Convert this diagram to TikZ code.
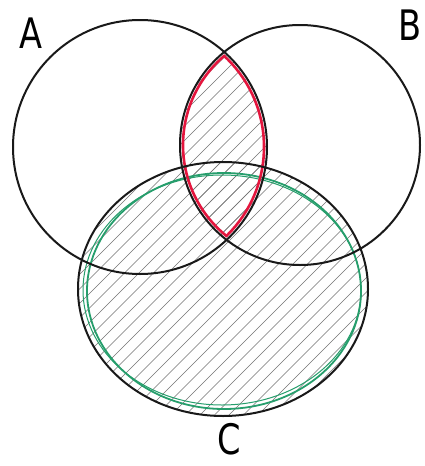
\documentclass[tikz,border=0pt]{standalone}
\usepackage{fontspec}
\setsansfont{DejaVu Sans}
\definecolor{penred}{RGB}{228,22,62}
\definecolor{pengreen}{RGB}{38,158,108}
\begin{document}
\begin{tikzpicture}[x=1pt,y=-1pt,
  outline/.style={draw=black!90,line width=2pt},
  redline/.style={draw=penred,line width=2.6pt},
  greenline/.style={draw=pengreen,line width=1.8pt},
  hatch/.style={draw=black!55,line width=0.6pt},
  setlabel/.style={font=\sffamily\fontsize{42}{42}\selectfont,inner sep=0pt,xscale=0.8}]
\useasboundingbox (0,0) rectangle (424,466);
\fill[white] (0,0) rectangle (424,466);
% hatching inside C
\begin{scope}
  \clip (223,289) ellipse [x radius=145pt, y radius=127pt];
  \foreach \k in {-32,...,30} \draw[hatch] (\k*14.5,470) -- ++(470,-470);
\end{scope}
% hatching inside A cap B
\begin{scope}
  \clip (140,147) circle [radius=127pt];
  \clip (300,145) circle [radius=120pt];
  \foreach \k in {-32,...,30} \draw[hatch] (\k*14.5,470) -- ++(470,-470);
\end{scope}
% green outline of C
\draw[greenline] (224,291) ellipse [x radius=137pt, y radius=118pt];
\draw[greenline,line width=1pt] (222,290) ellipse [x radius=139pt, y radius=115pt];
% red lens A cap B
\begin{scope}
  \clip (140,147) circle [radius=125pt];
  \draw[redline] (300,145) circle [radius=117pt];
\end{scope}
\begin{scope}
  \clip (300,145) circle [radius=118pt];
  \draw[redline] (140,147) circle [radius=124pt];
\end{scope}
% black circles
\draw[outline] (140,147) circle [radius=127pt];
\draw[outline] (300,145) circle [radius=120pt];
\draw[outline] (223,289) ellipse [x radius=145pt, y radius=127pt];
% labels
\node[setlabel] (labA) at (31,33) {A};
\node[setlabel] (labB) at (410,25) {B};
\node[setlabel] (labC) at (229,439) {C};
\end{tikzpicture}
\end{document}
